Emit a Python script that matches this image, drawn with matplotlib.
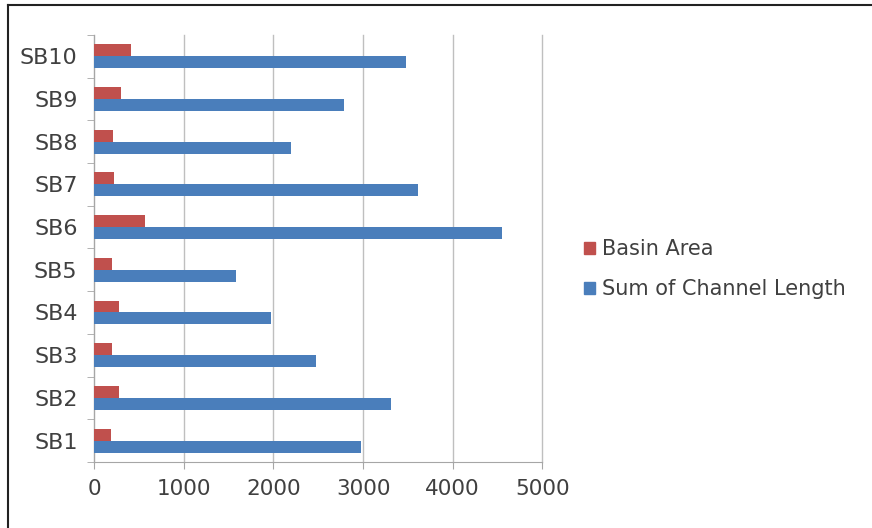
import matplotlib.pyplot as plt
import numpy as np
from matplotlib.patches import Patch
from matplotlib.lines import Line2D

plt.rcParams['font.family'] = ['DejaVu Sans']

# Данные
basins = ['SB1', 'SB2', 'SB3', 'SB4', 'SB5', 'SB6', 'SB7', 'SB8', 'SB9', 'SB10']
basin_area = [187, 279, 194, 279, 194, 566, 223, 212, 298, 407]
channel_length = [2977, 3311, 2477, 1970, 1580, 4551, 3609, 2194, 2782, 3483]

red = '#C0504D'
blue = '#4A7EBB'
text_col = '#404040'
axis_col = '#A6A6A6'

fig = plt.figure(figsize=(8.72, 5.28), dpi=100)
ax = fig.add_axes([0.108, 0.125, 0.514, 0.809])

y = np.arange(len(basins))
h = 0.28
ax.barh(y + h / 2, basin_area, height=h, color=red, label='Basin Area', zorder=3)
ax.barh(y - h / 2, channel_length, height=h, color=blue, label='Sum of Channel Length', zorder=3)

ax.set_xlim(0, 5000)
ax.set_ylim(-0.5, len(basins) - 0.5)
ax.set_xticks(range(0, 5001, 1000))
ax.set_yticks(y)
ax.set_yticklabels(basins)
ax.set_yticks(np.arange(-0.5, len(basins), 1), minor=True)

ax.grid(True, axis='x', color='#BFBFBF', linewidth=1, zorder=0)
for gl in ax.get_xgridlines():
    gl.set_clip_on(False)
for side in ['top', 'right']:
    ax.spines[side].set_visible(False)
for side in ['left', 'bottom']:
    ax.spines[side].set_color(axis_col)

ax.tick_params(axis='y', which='major', length=0, pad=12, labelsize=16, labelcolor=text_col)
ax.tick_params(axis='y', which='minor', length=5, color=axis_col)
ax.tick_params(axis='x', length=5, color=axis_col, labelsize=15.5, labelcolor=text_col, pad=7)

# Легенда справа
handles = [Patch(color=red), Patch(color=blue)]
fig.legend(handles, ['Basin Area', 'Sum of Channel Length'], loc='center left',
           bbox_to_anchor=(0.648, 0.49), frameon=False, fontsize=15,
           handlelength=0.55, handleheight=0.55, handletextpad=0.3,
           labelspacing=0.95, labelcolor=text_col)

# Рамка изображения (слева и сверху)
fig.add_artist(Line2D([0.0095, 0.0095], [0, 0.99], transform=fig.transFigure, color='#222222', linewidth=1.5))
fig.add_artist(Line2D([0.0095, 1], [0.99, 0.99], transform=fig.transFigure, color='#222222', linewidth=1.5))

fig.savefig('out.png', dpi=100)
